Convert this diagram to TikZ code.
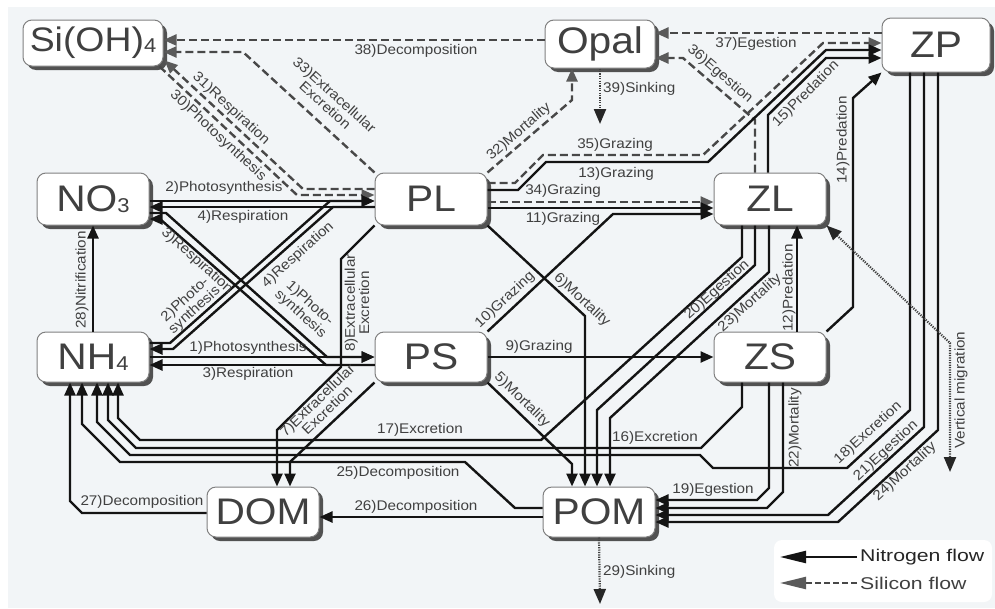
\documentclass[tikz,border=0pt]{standalone}
\usepackage{fontspec}
\setmainfont{Liberation Sans}
\newfontfamily\boxfont[FakeStretch=1.1]{Liberation Sans}
\newfontfamily\labfont[FakeStretch=1.09]{Liberation Sans}
\newfontfamily\legfont[FakeStretch=1.25]{Liberation Sans}
\usepackage{xcolor}
\usepackage{tikz}
\usetikzlibrary{arrows.meta,shadows}
\definecolor{bgcol}{RGB}{242,245,247}
\definecolor{txtcol}{RGB}{64,64,64}
\definecolor{sicol}{RGB}{72,72,72}
\definecolor{sitip}{RGB}{90,90,90}
\newcommand{\lowidx}[1]{\raisebox{-1pt}{\fontsize{20}{20}\selectfont #1}}

\begin{document}
\begin{tikzpicture}[x=1pt, y=-1pt,
	box/.style={draw=black!50, line width=1pt, fill=white, rounded corners=9pt, minimum width=112pt, minimum height=52pt, inner sep=0pt, text=txtcol, font=\boxfont\fontsize{37}{37}\selectfont, drop shadow={shadow xshift=4pt, shadow yshift=-4pt, fill=black!68, opacity=1}},
	lab/.style={inner sep=0pt, align=center, text=txtcol, font=\labfont\fontsize{14}{13}\selectfont},
	nflow/.style={draw=black!92, line width=2.4pt, -{Triangle[length=13pt,width=11pt]}},
	sflow/.style={draw=sicol, line width=2.4pt, dash pattern=on 8pt off 4pt, -{Triangle[length=13pt,width=11pt,color=sitip]}},
	dflow/.style={draw=black!75, line width=2.2pt, dash pattern=on 1.2pt off 1.2pt, -{Triangle[length=15pt,width=12pt,color=black!85]}},
	legbox/.style={fill=white, rounded corners=8pt, minimum width=218pt, minimum height=62pt}]
				\useasboundingbox (0,0) rectangle (995,608);
				\fill[white] (0,0) rectangle (995,608);
				\fill[bgcol] (8,7) rectangle (995,608);

				\node (SiOH) at (93,43) [box, minimum width=140pt, minimum height=46pt, font=\boxfont\fontsize{34}{34}\selectfont] {Si(OH)\lowidx{4}};
				\node (Opal) at (600,44) [box, minimum width=110pt, minimum height=48pt] {Opal};
				\node (ZP) at (936,45) [box, minimum width=108pt, minimum height=54pt] {ZP};
				\node (NOthree) at (93,199) [box] {NO\lowidx{3}};
				\node (PL) at (431,199) [box] {PL};
				\node (ZL) at (770,199) [box] {ZL};
				\node (NHfour) at (93,357) [box, minimum height=50pt] {NH\lowidx{4}};
				\node (PS) at (431,357) [box, minimum height=50pt] {PS};
				\node (ZS) at (770,357) [box, minimum height=50pt] {ZS};
				\node (DOM) at (263,512) [box, minimum height=50pt] {DOM};
				\node (POM) at (599,512) [box, minimum height=50pt] {POM};
				\node (legend) at (883,571) [legbox] {};

				\coordinate (opalsink) at (600,124);
				\coordinate (pomsink) at (600,604);
				\coordinate (vmig) at (950,472);
				\coordinate (nfA) at (857,557);
				\coordinate (nfB) at (780,557);
				\coordinate (sfA) at (857,583);
				\coordinate (sfB) at (780,583);

				\draw[sflow] (Opal.west |- 0,40) -- (SiOH.east |- 0,40);
				\draw[sflow] (PL.north west) -- (243,52) -- (SiOH.east |- 0,52);
				\draw[sflow] (PL.west |- 0,189) -- (303,189) -- ([shift={(1,-6)}]SiOH.south east);
				\draw[sflow] ([shift={(-4,0)}]SiOH.south east) -- (297,195) -- (PL.west |- 0,195);
				\draw[sflow] (ZL.north -| 755,0) -- (755,120) -- (683,58) -- (Opal.east |- 0,58);
				\draw[sflow] (ZP.west |- 0,33) -- (Opal.east |- 0,33);
				\draw[sflow] (PL.north east) -- (572,100) -- (Opal.south -| 572,0);
				\draw[sflow] (PL.east |- 0,183) -- (515,183) -- (543,155) -- (703,155) -- (823,43) -- (ZP.west |- 0,43);
				\draw[sflow] (PL.east |- 0,202) -- (ZL.west |- 0,202);
				\draw[dflow] (Opal.south) -- (opalsink);

				\draw[nflow] (NOthree.east |- 0,201) -- (PL.west |- 0,201);
				\draw[nflow] (PL.west |- 0,207) -- (NOthree.east |- 0,207);
				\draw[nflow] (NOthree.east |- 0,213) -- (166,213) -- (327,357) -- (PS.west |- 0,357);
				\draw[nflow] (PS.west |- 0,365) -- (326,365) -- (160,219) -- (NOthree.east |- 0,219);
				\draw[nflow] (NHfour.east |- 0,357) -- (PS.west |- 0,357);
				\draw[nflow] (PS.west |- 0,365) -- (NHfour.east |- 0,365);
				\draw[nflow] (NHfour.east |- 0,343) -- (170,343) -- (330,201) -- (PL.west |- 0,201);
				\draw[nflow] (PL.west |- 0,207) -- (333,207) -- (173,349) -- (NHfour.east |- 0,349);
				\draw[nflow] (NHfour.north) -- (NOthree.south);

				\draw[nflow] (PL.east |- 0,190) -- (518,190) -- (546,162) -- (708,162) -- (826,50) -- (ZP.west |- 0,50);
				\draw[nflow] (ZL.north -| 768,0) -- (768,115) -- (826,58) -- (ZP.west |- 0,58);
				\draw[nflow] (PL.east |- 0,208) -- (ZL.west |- 0,208);
				\draw[nflow] (PS.north east) -- (613,214) -- (ZL.west |- 0,214);
				\draw[nflow] (PL.south east) -- (585,316) -- (POM.north -| 585,0);
				\draw[nflow] (PS.south east) -- (572,464) -- (POM.north -| 572,0);
				\draw[nflow] (PS.east |- 0,357) -- (ZS.west |- 0,357);
				\draw[nflow] (ZS.north -| 797,0) -- (ZL.south -| 797,0);
				\draw[nflow] (ZS.north east) -- (853,307) -- (853,98) -- (ZP.south west);

				\draw[nflow] (ZL.south -| 742,0) -- (742,257) -- (541,440) -- (140,440) -- (118,418) -- (NHfour.south -| 118,0);
				\draw[nflow] (ZL.south -| 755,0) -- (755,265) -- (597,410) -- (POM.north -| 597,0);
				\draw[nflow] (ZL.south -| 769,0) -- (769,272) -- (610,418) -- (POM.north -| 610,0);
				\draw[nflow] (ZS.south -| 742,0) -- (742,407) -- (701,448) -- (136,448) -- (108,420) -- (NHfour.south -| 108,0);
				\draw[nflow] (ZS.south -| 769,0) -- (769,488) -- (757,500) -- (POM.east |- 0,500);
				\draw[nflow] (ZS.south -| 783,0) -- (783,492) -- (767,508) -- (POM.east |- 0,508);
				\draw[nflow] (ZP.south -| 910,0) -- (910,410) -- (847,468) -- (713,468) -- (700,455) -- (130,455) -- (97,422) -- (NHfour.south -| 97,0);
				\draw[nflow] (ZP.south -| 924,0) -- (924,427) -- (828,515) -- (POM.east |- 0,515);
				\draw[nflow] (ZP.south -| 938,0) -- (938,430) -- (838,522) -- (POM.east |- 0,522);
				\draw[nflow] (POM.west |- 0,508) -- (515,508) -- (465,462) -- (120,462) -- (82,424) -- (NHfour.south -| 82,0);
				\draw[nflow] (POM.west |- 0,517) -- (DOM.east |- 0,517);
				\draw[nflow] (DOM.west |- 0,513) -- (82,513) -- (70,501) -- (NHfour.south -| 70,0);
				\draw[nflow] (PS.south west) -- (290,462) -- (DOM.north -| 290,0);
				\draw[nflow] (PL.south west) -- (341,259) -- (341,367) -- (277,430) -- (DOM.north -| 277,0);
				\draw[dflow, {Triangle[length=15pt,width=12pt,color=black!85]}-{Triangle[length=15pt,width=12pt,color=black!85]}] (ZL.south east) -- (950,343) -- (vmig);
				\draw[dflow] (POM.south) -- (pomsink);

				\node (t38) at (416,51) [lab] {38)Decomposition};
				\node (t37) at (756,44) [lab] {37)Egestion};
				\node (t36) at (720,74) [lab, rotate=-41] {36)Egestion};
				\node (t33) at (330,100) [lab, rotate=-42] {33)Extracellular\\Excretion};
				\node (t31) at (231,109) [lab, rotate=-43] {31)Respiration};
				\node (t30) at (218,136) [lab, rotate=-43] {30)Photosynthesis};
				\node (t32) at (519,132) [lab, rotate=41] {32)Mortality};
				\node (t39) at (603,89) [lab, anchor=west] {39)Sinking};
				\node (t35) at (615,145) [lab] {35)Grazing};
				\node (t13) at (616,174) [lab] {13)Grazing};
				\node (t15) at (806,94) [lab, rotate=45] {15)Predation};
				\node (t14) at (843,140) [lab, rotate=90] {14)Predation};
				\node (t34) at (563,191) [lab] {34)Grazing};
				\node (t11) at (563,219) [lab] {11)Grazing};
				\node (t2a) at (224,188) [lab] {2)Photosynthesis};
				\node (t4a) at (243,217) [lab] {4)Respiration};
				\node (t3b) at (197,261) [lab, rotate=-42] {3)Respiration};
				\node (t2b) at (190,305) [lab, rotate=42] {2)Photo-\\synthesis};
				\node (t4b) at (298,255) [lab, rotate=42] {4)Respiration};
				\node (t1b) at (305,309) [lab, rotate=-42] {1)Photo-\\synthesis};
				\node (t1a) at (248,348) [lab] {1)Photosynthesis};
				\node (t3a) at (248,374) [lab] {3)Respiration};
				\node (t28) at (82,280) [lab, rotate=90] {28)Nitrification};
				\node (t8) at (357,303) [lab, rotate=90] {8)Extracellular\\Excretion};
				\node (t7) at (322,405) [lab, rotate=44] {7)Extracellular\\Excretion};
				\node (t10) at (505,300) [lab, rotate=43] {10)Grazing};
				\node (t6) at (582,300) [lab, rotate=-43] {6)Mortality};
				\node (t9) at (539,347) [lab] {9)Grazing};
				\node (t5) at (522,400) [lab, rotate=-44] {5)Mortality};
				\node (t12) at (789,288) [lab, rotate=90] {12)Predation};
				\node (t20) at (717,290) [lab, rotate=42] {20)Egestion};
				\node (t23) at (750,303) [lab, rotate=42] {23)Mortality};
				\node (t17) at (420,430) [lab] {17)Excretion};
				\node (t16) at (655,438) [lab] {16)Excretion};
				\node (t25) at (398,473) [lab] {25)Decomposition};
				\node (t26) at (416,507) [lab] {26)Decomposition};
				\node (t27) at (142,502) [lab] {27)Decomposition};
				\node (t19) at (713,490) [lab] {19)Egestion};
				\node (t22) at (795,428) [lab, rotate=90] {22)Mortality};
				\node (t18) at (868,433) [lab, rotate=42.5] {18)Excretion};
				\node (t21) at (886,451) [lab, rotate=42.5] {21)Egestion};
				\node (t24) at (905,472) [lab, rotate=42.5] {24)Mortality};
				\node (tvm) at (961,390) [lab, rotate=90] {Vertical migration};
				\node (t29) at (603,572) [lab, anchor=west] {29)Sinking};

				\draw[nflow, -{Triangle[length=26pt,width=12pt]}] (nfA) -- (nfB);
				\draw[sflow, dash pattern=on 6pt off 3pt, -{Triangle[length=26pt,width=12pt,color=sitip]}] (sfA) -- (sfB);
				\node (nflab) at (860,557) [anchor=west, inner sep=0pt, text=black!85, font=\legfont\fontsize{17}{17}\selectfont] {Nitrogen flow};
				\node (sflab) at (860,583) [anchor=west, inner sep=0pt, text=txtcol, font=\legfont\fontsize{17}{17}\selectfont] {Silicon flow};
\end{tikzpicture}
\end{document}
